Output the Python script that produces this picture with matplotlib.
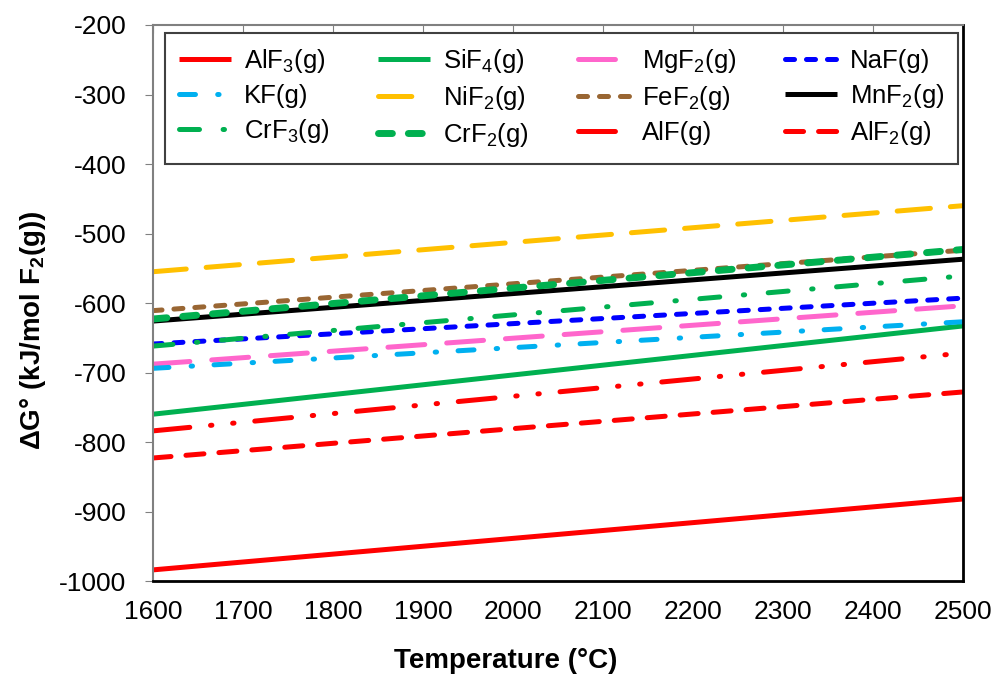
import matplotlib
matplotlib.use("Agg")
import matplotlib.pyplot as plt

plt.rcParams['font.family'] = ['Liberation Sans', 'DejaVu Sans']
plt.rcParams['mathtext.fontset'] = 'custom'
plt.rcParams['mathtext.rm'] = 'Liberation Sans'
plt.rcParams['mathtext.bf'] = 'Liberation Sans:bold'
plt.rcParams['lines.scale_dashes'] = False
plt.rcParams['axes.unicode_minus'] = False

temps = [1600, 2500]

species = ['AlF$_\\mathregular{3}$(g)', 'SiF$_\\mathregular{4}$(g)', 'MgF$_\\mathregular{2}$(g)', 'NaF(g)',
           'KF(g)', 'NiF$_\\mathregular{2}$(g)', 'FeF$_\\mathregular{2}$(g)', 'MnF$_\\mathregular{2}$(g)',
           'CrF$_\\mathregular{3}$(g)', 'CrF$_\\mathregular{2}$(g)', 'AlF(g)', 'AlF$_\\mathregular{2}$(g)']

# dG (kJ/mol F2) at 1600 and 2500 C
dG_AlF3 = [-984, -882]
dG_SiF4 = [-760, -633]
dG_MgF2 = [-688, -604]
dG_NaF = [-659, -593]
dG_KF = [-694, -627]
dG_NiF2 = [-555, -460]
dG_FeF2 = [-611, -524]
dG_MnF2 = [-626, -537]
dG_CrF3 = [-662, -561]
dG_CrF2 = [-623, -523]
dG_AlF = [-784, -672]
dG_AlF2 = [-823, -728]

values = [dG_AlF3, dG_SiF4, dG_MgF2, dG_NaF, dG_KF, dG_NiF2,
          dG_FeF2, dG_MnF2, dG_CrF3, dG_CrF2, dG_AlF, dG_AlF2]

colors = ['#FF0000', '#00B050', '#FF66CC', '#0000FF', '#00B0F0', '#FFC000',
          '#996633', '#000000', '#00B050', '#00B050', '#FF0000', '#FF0000']

styles = ['-', '-', (0, (26.6, 15.8)), (0, (6.5, 8.6)),
          (0, (11.5, 16, 1.0, 15.5)), (0, (24, 14.4)), (0, (6.5, 8.6)), '-',
          (0, (14.4, 17, 1.0, 17)), (0, (10, 11.5)),
          (0, (26.6, 15, 1.0, 15, 1.0, 15)), (0, (13, 10.8))]

widths = [3.6] * 12
widths[9] = 5.0

fig, ax = plt.subplots(figsize=(10.06, 6.84), dpi=100)
fig.subplots_adjust(left=153 / 1006, right=963 / 1006, top=1 - 25 / 684, bottom=1 - 581 / 684)

handles = []
for lab, v, c, ls, lw in zip(species, values, colors, styles, widths):
    h, = ax.plot(temps, v, color=c, linestyle=ls, lw=lw,
                 dash_capstyle='round', solid_capstyle='butt', label=lab)
    handles.append(h)

ax.set_xlim(1600, 2500)
ax.set_ylim(-1000, -200)
ax.set_xticks(range(1600, 2501, 100))
ax.set_yticks(range(-1000, -199, 100))

ax.tick_params(axis='x', top=True, bottom=False, direction='in', length=6,
               labelsize=19, pad=14, color='#808080')
ax.tick_params(axis='y', direction='out', length=6, labelsize=19, pad=13,
               color='#808080')

for s in ['left', 'top']:
    ax.spines[s].set_color('#808080')
    ax.spines[s].set_linewidth(1.5)
for s in ['right', 'bottom']:
    ax.spines[s].set_color('#000000')
    ax.spines[s].set_linewidth(2)

ax.set_xlabel('Temperature (°C)', fontsize=20, fontweight='bold')
ax.set_ylabel('ΔG° (kJ/mol F$_\\mathbf{2}$(g))', fontsize=20, fontweight='bold')
ax.xaxis.set_label_coords(0.435, -0.12)
ax.yaxis.set_label_coords(-0.13, 0.45)

# legend is filled row-wise in the reference, matplotlib fills by column
order = [0, 4, 8, 1, 5, 9, 2, 6, 10, 3, 7, 11]
leg = ax.legend([handles[i] for i in order], [species[i] for i in order],
                ncol=4, loc='upper left', mode='expand',
                bbox_to_anchor=(0.015, 0.757, 0.979, 0.228),
                fontsize=18.5, handlelength=2.0, handletextpad=0.5,
                fancybox=False, framealpha=1, borderpad=0.55, labelspacing=0.35,
                borderaxespad=0)
leg.get_frame().set_edgecolor('#404040')
leg.get_frame().set_linewidth(1.5)

fig.savefig('out.png', dpi=100)
